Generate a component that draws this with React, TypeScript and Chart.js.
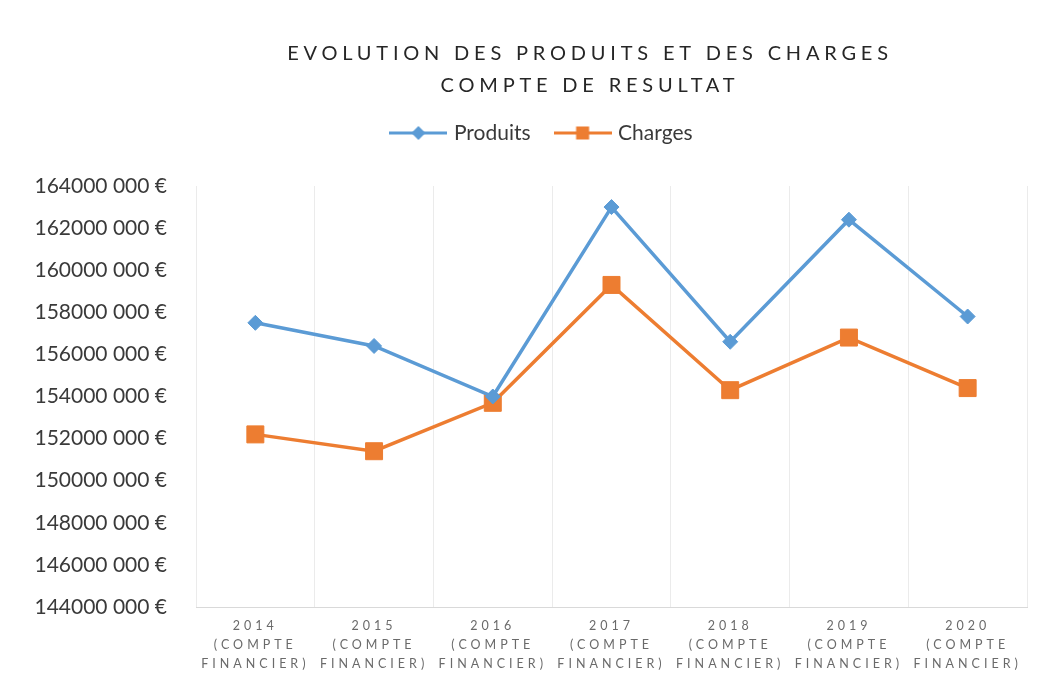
import React, { useEffect, useRef } from "react";
import { Chart, registerables } from "chart.js";

Chart.register(...registerables);

// ---- data ----
const titleLines = ["EVOLUTION DES PRODUITS ET DES CHARGES", "COMPTE DE RESULTAT"];
const years = ["2014", "2015", "2016", "2017", "2018", "2019", "2020"];
const categorySuffix = ["(COMPTE", "FINANCIER)"];
const seriesNames = ["Produits", "Charges"];
const produits = [157500000, 156400000, 154000000, 163000000, 156600000, 162400000, 157800000];
const charges = [152200000, 151400000, 153700000, 159300000, 154300000, 156800000, 154400000];
const yMin = 144000000;
const yMax = 164000000;
const yStep = 2000000;

// ---- style ----
const BLUE = "#5B9BD5";
const ORANGE = "#ED7D31";
const FONT = "Lato, 'Open Sans', sans-serif";
const TITLE_COLOR = "#262626";
const TEXT_DARK = "#3a3a3a";
const TEXT_GREY = "#6a6a6a";
const TITLE_CENTER_X = 582;
const LEGEND_CENTER_X = 535;
const LEGEND_CENTER_Y = 125;

function formatEuro(v: number): string {
  const thousands = Math.floor(v / 1000);
  const rest = String(Math.round(v % 1000)).padStart(3, "0");
  return `${thousands} ${rest} €`;
}

function makeIcon(color: string, shape: "diamond" | "square"): HTMLCanvasElement {
  const c = document.createElement("canvas");
  c.width = 58;
  c.height = 16;
  const g = c.getContext("2d")!;
  g.strokeStyle = color;
  g.lineWidth = 3;
  g.beginPath();
  g.moveTo(0, 8);
  g.lineTo(58, 8);
  g.stroke();
  g.fillStyle = color;
  if (shape === "diamond") {
    g.beginPath();
    g.moveTo(29, 1);
    g.lineTo(36, 8);
    g.lineTo(29, 15);
    g.lineTo(22, 8);
    g.closePath();
    g.fill();
  } else {
    g.fillRect(22.5, 1.5, 13, 13);
  }
  return c;
}

const placementPlugin = {
  id: "placement",
  beforeDraw(chart: any) {
    const ctx = chart.ctx;
    const t = chart.titleBlock;
    if (t && !t._wrapped) {
      const orig = t.draw.bind(t);
      t.draw = () => {
        ctx.save();
        ctx.letterSpacing = "4.8px";
        ctx.translate(TITLE_CENTER_X - (t.left + t.right) / 2, 0);
        orig();
        ctx.restore();
      };
      t._wrapped = true;
    }
    const lg = chart.legend;
    if (lg && !lg._wrapped) {
      const orig = lg.draw.bind(lg);
      lg.draw = () => {
        const hb = lg.legendHitBoxes || [];
        let dx = 0;
        let dy = 0;
        if (hb.length) {
          const first = hb[0];
          const last = hb[hb.length - 1];
          dx = LEGEND_CENTER_X - (first.left + last.left + last.width) / 2;
          dy = LEGEND_CENTER_Y - (first.top + first.height / 2);
        }
        ctx.save();
        ctx.translate(dx, dy);
        orig();
        ctx.restore();
      };
      lg._wrapped = true;
    }
    const xs = chart.scales && chart.scales.x;
    if (xs && !xs._wrapped) {
      const orig = xs.drawLabels.bind(xs);
      xs.drawLabels = (area: any) => {
        ctx.save();
        ctx.letterSpacing = "4px";
        orig(area);
        ctx.restore();
      };
      xs._wrapped = true;
    }
  },
};

export default function App() {
  const ref = useRef<HTMLCanvasElement>(null);

  useEffect(() => {
    const icons = [makeIcon(BLUE, "diamond"), makeIcon(ORANGE, "square")];
    const labels = years.map((y) => [y, ...categorySuffix]);
    const chart = new Chart(ref.current!, {
      type: "line",
      data: {
        labels,
        datasets: [
          {
            label: seriesNames[0],
            data: produits,
            borderColor: BLUE,
            backgroundColor: BLUE,
            borderWidth: 3.5,
            pointStyle: "rectRot",
            pointRadius: 7.5,
            pointBorderWidth: 1,
            pointBackgroundColor: BLUE,
            pointBorderColor: BLUE,
            tension: 0,
          },
          {
            label: seriesNames[1],
            data: charges,
            borderColor: ORANGE,
            backgroundColor: ORANGE,
            borderWidth: 3.5,
            pointStyle: "rect",
            pointRadius: 12,
            pointBorderWidth: 1,
            pointBackgroundColor: ORANGE,
            pointBorderColor: ORANGE,
            tension: 0,
          },
        ],
      },
      options: {
        animation: false,
        responsive: true,
        maintainAspectRatio: false,
        layout: { padding: { top: 0, right: 4, bottom: 0, left: 0 } },
        plugins: {
          title: {
            display: true,
            text: titleLines,
            color: TITLE_COLOR,
            font: { family: FONT, size: 20, weight: "normal", lineHeight: "32px" },
            padding: { top: 30, bottom: 26 },
          },
          legend: {
            display: true,
            position: "top",
            labels: {
              usePointStyle: true,
              pointStyleWidth: 50,
              boxHeight: 16,
              padding: 27,
              color: TEXT_DARK,
              font: { family: FONT, size: 21 },
              generateLabels: (c: any) => {
                const items = (Chart.defaults.plugins.legend.labels as any).generateLabels(c);
                items.forEach((it: any, i: number) => {
                  it.pointStyle = icons[i];
                });
                return items;
              },
            },
          },
          tooltip: { enabled: false },
        },
        scales: {
          x: {
            offset: true,
            grid: { display: true, offset: true, color: "#ebebeb", drawTicks: false },
            border: { display: true, color: "#d9d9d9" },
            ticks: {
              color: TEXT_GREY,
              font: { family: FONT, size: 12.5, lineHeight: "19px" },
              padding: 9,
              maxRotation: 0,
              autoSkip: false,
            },
            afterFit: (s: any) => {
              s.height = 71;
            },
          },
          y: {
            min: yMin,
            max: yMax,
            grid: { display: false, drawTicks: false },
            border: { display: false },
            ticks: {
              stepSize: yStep,
              color: TEXT_DARK,
              font: { family: FONT, size: 21 },
              padding: 29,
              callback: (v: any) => formatEuro(Number(v)),
            },
            afterFit: (s: any) => {
              s.width = 188;
            },
          },
        },
      },
      plugins: [placementPlugin],
    } as any);
    return () => chart.destroy();
  }, []);

  return (
    <div style={{ position: "relative", width: "100%", height: 670, background: "#fff" }}>
      <canvas ref={ref} style={{ display: "block" }} />
    </div>
  );
}
